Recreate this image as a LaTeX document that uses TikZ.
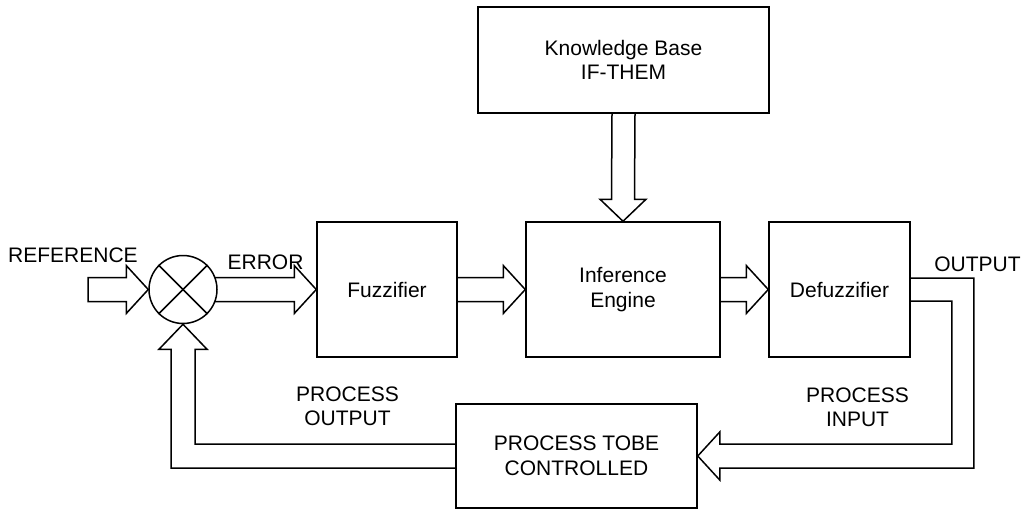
\documentclass[tikz,border=0pt]{standalone}
\usepackage{fontspec}
\setmainfont{Liberation Sans}
\usetikzlibrary{calc}

\tikzset{
  block/.style={draw, line width=1.5pt, rectangle, inner sep=0pt, align=center},
  pipe/.style={draw, line width=1.5pt, line join=miter},
  lbl/.style={inner sep=0pt, align=center},
}

\begin{document}
\begin{tikzpicture}[x=1pt, y=-1pt, font=\fontsize{21}{24.5}\selectfont]
\useasboundingbox (0,0) rectangle (1024,512);

% blocks
\node[block, minimum width=291pt, minimum height=106pt] (kb)    at (623.5,60)   {Knowledge Base\\IF-THEM};
\node[block, minimum width=140pt, minimum height=135pt] (fuz)   at (387,289.5)  {Fuzzifier};
\node[block, minimum width=194pt, minimum height=135pt] (inf)   at (623,289.5)  {Inference\\Engine};
\node[block, minimum width=141pt, minimum height=135pt] (defuz) at (839.5,289.5){Defuzzifier};
\node[block, minimum width=241pt, minimum height=104pt] (proc)  at (576.5,456)  {PROCESS TOBE\\CONTROLLED};

% summing junction
\node[draw, circle, line width=1.5pt, minimum size=68pt, inner sep=0pt] (sum) at (183,289.5) {};
\draw[line width=1.5pt] (sum.north west) -- (sum.south east);
\draw[line width=1.5pt] (sum.north east) -- (sum.south west);

% labels
\node[lbl] (lref) at (73,255.5)    {REFERENCE};
\node[lbl] (lerr) at (265.5,262.5) {ERROR};
\node[lbl] (lout) at (977.5,264.5) {OUTPUT};
\node[lbl] (lpin) at (857.5,407.5) {PROCESS\\INPUT};
\node[lbl] (lpout) at (347.5,406.5) {PROCESS\\OUTPUT};

% reference input
\coordinate (refin) at (88,289.5);
\draw[pipe] ($(refin)+(0,-12)$) -- ($(sum.west)+(-22,-12)$) -- ($(sum.west)+(-22,-24)$)
  -- (sum.west) -- ($(sum.west)+(-22,24)$) -- ($(sum.west)+(-22,12)$) -- ($(refin)+(0,12)$) -- cycle;

% error signal
\draw[pipe] ($(sum.center)+(31.8,-12)$) -- ($(fuz.west)+(-22,-12)$) -- ($(fuz.west)+(-22,-24)$)
  -- (fuz.west) -- ($(fuz.west)+(-22,24)$) -- ($(fuz.west)+(-22,12)$) -- ($(sum.center)+(31.8,12)$);

% fuzzifier to inference engine
\draw[pipe] ($(fuz.east)+(0,-12)$) -- ($(inf.west)+(-22,-12)$) -- ($(inf.west)+(-22,-24)$)
  -- (inf.west) -- ($(inf.west)+(-22,24)$) -- ($(inf.west)+(-22,12)$) -- ($(fuz.east)+(0,12)$);

% inference engine to defuzzifier
\draw[pipe] ($(inf.east)+(0,-12)$) -- ($(defuz.west)+(-22,-12)$) -- ($(defuz.west)+(-22,-24)$)
  -- (defuz.west) -- ($(defuz.west)+(-22,24)$) -- ($(defuz.west)+(-22,12)$) -- ($(inf.east)+(0,12)$);

% knowledge base to inference engine
\draw[pipe] ($(kb.south)+(-11.5,0)$) -- ($(inf.north)+(-11.5,-22)$) -- ($(inf.north)+(-23,-22)$)
  -- (inf.north) -- ($(inf.north)+(23,-22)$) -- ($(inf.north)+(11.5,-22)$) -- ($(kb.south)+(11.5,0)$);

% output pipe to the process
\coordinate (oc) at ($(proc.east)+(265,0)$);
\draw[pipe] ($(defuz.east)+(0,-11.5)$) -| ($(oc)+(11,12)$) -- ($(proc.east)+(22,12)$)
  -- ($(proc.east)+(22,24)$) -- (proc.east) -- ($(proc.east)+(22,-24)$) -- ($(proc.east)+(22,-12)$)
  -- ($(oc)+(-11,-12)$) |- ($(defuz.east)+(0,11.5)$);

% feedback pipe to the summing junction
\draw[pipe] ($(proc.west)+(0,-12)$) -| ($(sum.south)+(12,25)$) -- ($(sum.south)+(24,25)$)
  -- (sum.south) -- ($(sum.south)+(-24,25)$) -- ($(sum.south)+(-12,25)$) |- ($(proc.west)+(0,12)$);
\end{tikzpicture}
\end{document}
